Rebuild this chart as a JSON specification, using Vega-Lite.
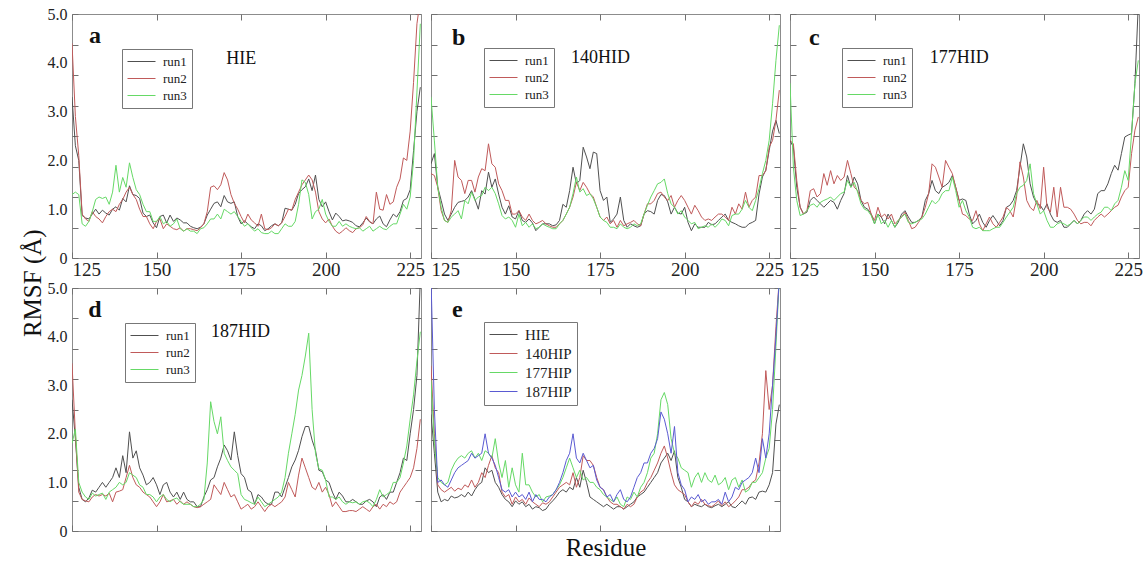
{
"$schema": "https://vega.github.io/schema/vega-lite/v6.json",
"background": "white",
"padding": {"left": 20, "top": 5, "right": 0, "bottom": 0},
"title": {"text": "RMSF (Å)", "orient": "left", "anchor": "middle", "fontSize": 25, "font": "Liberation Serif", "fontWeight": "normal", "color": "#111", "offset": 1},
"config": {
  "font": "Liberation Serif",
  "view": {"stroke": "#8c8c8c", "strokeWidth": 1},
  "axis": {"domain": false, "grid": false, "tickColor": "#707070", "tickSize": -6, "tickWidth": 1, "labelFont": "Liberation Serif", "labelColor": "#222", "titleFont": "Liberation Serif", "titleFontWeight": "normal", "titleColor": "#111"},
  "axisX": {"labelFontSize": 19, "labelPadding": 8},
  "axisY": {"labelFontSize": 16, "labelPadding": 5},
  "legend": {"strokeColor": "#777", "strokeWidth": 1, "padding": 5, "labelFont": "Liberation Serif", "labelFontSize": 13, "labelColor": "#222", "symbolType": "M-1,0H3", "symbolSize": 196, "symbolStrokeWidth": 1, "labelOffset": 21, "rowPadding": 2, "fillColor": "white"}
},
"resolve": {"scale": {"color": "independent"}, "legend": {"color": "independent"}},
"datasets": {
"a": [
{"r":125,"run1":3.3,"run2":4.4,"run3":1.3},
{"r":126,"run1":2.3,"run2":2.9,"run3":1.35},
{"r":127,"run1":2.0,"run2":2.1,"run3":1.3},
{"r":128,"run1":0.87,"run2":0.9,"run3":0.7},
{"r":129,"run1":0.82,"run2":0.8,"run3":0.65},
{"r":130,"run1":0.8,"run2":0.75,"run3":0.75},
{"r":131,"run1":0.9,"run2":0.95,"run3":0.95},
{"r":132,"run1":1.0,"run2":0.85,"run3":1.2},
{"r":133,"run1":0.9,"run2":0.8,"run3":1.25},
{"r":134,"run1":0.98,"run2":0.72,"run3":1.22},
{"r":135,"run1":0.92,"run2":0.85,"run3":1.25},
{"r":136,"run1":0.88,"run2":0.95,"run3":1.1},
{"r":137,"run1":1.0,"run2":1.0,"run3":1.35},
{"r":138,"run1":1.05,"run2":0.95,"run3":1.9},
{"r":139,"run1":0.98,"run2":1.1,"run3":1.35},
{"r":140,"run1":1.22,"run2":1.2,"run3":1.65},
{"r":141,"run1":1.15,"run2":1.35,"run3":1.45},
{"r":142,"run1":1.48,"run2":1.45,"run3":1.95},
{"r":143,"run1":1.3,"run2":1.3,"run3":1.65},
{"r":144,"run1":1.28,"run2":1.2,"run3":1.4},
{"r":145,"run1":1.22,"run2":1.0,"run3":1.3},
{"r":146,"run1":0.92,"run2":0.85,"run3":1.1},
{"r":147,"run1":0.85,"run2":0.85,"run3":0.95},
{"r":148,"run1":0.88,"run2":0.7,"run3":0.95},
{"r":149,"run1":0.72,"run2":0.6,"run3":0.75},
{"r":150,"run1":0.62,"run2":0.75,"run3":0.75},
{"r":151,"run1":0.85,"run2":0.8,"run3":0.85},
{"r":152,"run1":0.88,"run2":0.6,"run3":0.7},
{"r":153,"run1":0.72,"run2":0.7,"run3":0.75},
{"r":154,"run1":0.88,"run2":0.65,"run3":0.65},
{"r":155,"run1":0.75,"run2":0.6,"run3":0.7},
{"r":156,"run1":0.82,"run2":0.58,"run3":0.8},
{"r":157,"run1":0.78,"run2":0.62,"run3":0.6},
{"r":158,"run1":0.72,"run2":0.55,"run3":0.55},
{"r":159,"run1":0.72,"run2":0.6,"run3":0.6},
{"r":160,"run1":0.65,"run2":0.6,"run3":0.55},
{"r":161,"run1":0.62,"run2":0.58,"run3":0.55},
{"r":162,"run1":0.6,"run2":0.56,"run3":0.5},
{"r":163,"run1":0.63,"run2":0.62,"run3":0.6},
{"r":164,"run1":0.7,"run2":0.7,"run3":0.62},
{"r":165,"run1":0.88,"run2":0.95,"run3":0.7},
{"r":166,"run1":1.0,"run2":1.45,"run3":0.8},
{"r":167,"run1":1.12,"run2":1.48,"run3":0.8},
{"r":168,"run1":1.15,"run2":1.4,"run3":0.9},
{"r":169,"run1":1.05,"run2":1.5,"run3":0.8},
{"r":170,"run1":1.28,"run2":1.75,"run3":1.0},
{"r":171,"run1":1.15,"run2":1.6,"run3":0.95},
{"r":172,"run1":1.12,"run2":1.3,"run3":0.9},
{"r":173,"run1":1.15,"run2":1.12,"run3":0.95},
{"r":174,"run1":0.85,"run2":1.0,"run3":0.85},
{"r":175,"run1":0.7,"run2":0.85,"run3":0.75},
{"r":176,"run1":0.76,"run2":0.72,"run3":0.65},
{"r":177,"run1":0.7,"run2":0.9,"run3":0.7},
{"r":178,"run1":0.64,"run2":0.78,"run3":0.62},
{"r":179,"run1":0.6,"run2":0.72,"run3":0.55},
{"r":180,"run1":0.7,"run2":0.65,"run3":0.6},
{"r":181,"run1":0.66,"run2":0.9,"run3":0.52},
{"r":182,"run1":0.56,"run2":0.6,"run3":0.5},
{"r":183,"run1":0.6,"run2":0.58,"run3":0.5},
{"r":184,"run1":0.66,"run2":0.62,"run3":0.55},
{"r":185,"run1":0.7,"run2":0.7,"run3":0.5},
{"r":186,"run1":0.66,"run2":0.66,"run3":0.5},
{"r":187,"run1":0.72,"run2":0.72,"run3":0.6},
{"r":188,"run1":1.02,"run2":0.85,"run3":0.7},
{"r":189,"run1":1.0,"run2":1.0,"run3":0.65},
{"r":190,"run1":0.98,"run2":0.98,"run3":0.65},
{"r":191,"run1":1.1,"run2":1.2,"run3":0.75},
{"r":192,"run1":1.32,"run2":1.35,"run3":1.1},
{"r":193,"run1":1.4,"run2":1.5,"run3":1.6},
{"r":194,"run1":1.46,"run2":1.6,"run3":1.55},
{"r":195,"run1":1.62,"run2":1.7,"run3":1.3},
{"r":196,"run1":1.38,"run2":1.6,"run3":0.8},
{"r":197,"run1":1.7,"run2":1.35,"run3":0.95},
{"r":198,"run1":1.2,"run2":0.95,"run3":1.0},
{"r":199,"run1":1.05,"run2":0.8,"run3":1.2},
{"r":200,"run1":1.15,"run2":0.72,"run3":0.9},
{"r":201,"run1":0.95,"run2":0.8,"run3":0.75},
{"r":202,"run1":0.78,"run2":0.65,"run3":0.65},
{"r":203,"run1":0.92,"run2":0.55,"run3":0.65},
{"r":204,"run1":0.85,"run2":0.5,"run3":0.75},
{"r":205,"run1":0.76,"run2":0.55,"run3":0.65},
{"r":206,"run1":0.78,"run2":0.62,"run3":0.7},
{"r":207,"run1":0.76,"run2":0.56,"run3":0.65},
{"r":208,"run1":0.73,"run2":0.52,"run3":0.62},
{"r":209,"run1":0.66,"run2":0.6,"run3":0.6},
{"r":210,"run1":0.64,"run2":0.62,"run3":0.62},
{"r":211,"run1":0.72,"run2":0.68,"run3":0.55},
{"r":212,"run1":0.82,"run2":0.85,"run3":0.6},
{"r":213,"run1":0.74,"run2":0.75,"run3":0.65},
{"r":214,"run1":0.7,"run2":0.7,"run3":0.55},
{"r":215,"run1":0.8,"run2":1.35,"run3":0.6},
{"r":216,"run1":0.86,"run2":1.0,"run3":0.65},
{"r":217,"run1":0.7,"run2":0.98,"run3":0.6},
{"r":218,"run1":0.64,"run2":1.3,"run3":0.58},
{"r":219,"run1":0.78,"run2":1.1,"run3":0.65},
{"r":220,"run1":0.9,"run2":1.15,"run3":0.7},
{"r":221,"run1":0.84,"run2":1.45,"run3":0.7},
{"r":222,"run1":0.95,"run2":1.62,"run3":0.9},
{"r":223,"run1":1.18,"run2":2.05,"run3":1.1},
{"r":224,"run1":1.22,"run2":2.0,"run3":1.0},
{"r":225,"run1":1.4,"run2":2.6,"run3":1.25},
{"r":226,"run1":2.2,"run2":3.6,"run3":2.0},
{"r":227,"run1":3.0,"run2":4.8,"run3":3.4},
{"r":228,"run1":3.5,"run2":5.3,"run3":4.8}
],
"b": [
{"r":125,"run1":1.93,"run2":1.73,"run3":3.3},
{"r":126,"run1":2.14,"run2":1.69,"run3":2.4},
{"r":127,"run1":1.45,"run2":1.45,"run3":1.45},
{"r":128,"run1":1.18,"run2":0.97,"run3":1.04},
{"r":129,"run1":0.9,"run2":0.77,"run3":0.77},
{"r":130,"run1":0.77,"run2":0.73,"run3":0.73},
{"r":131,"run1":0.9,"run2":0.97,"run3":0.84},
{"r":132,"run1":1.04,"run2":2.0,"run3":0.9},
{"r":133,"run1":1.14,"run2":1.66,"run3":0.97},
{"r":134,"run1":1.16,"run2":1.59,"run3":0.8},
{"r":135,"run1":1.18,"run2":1.32,"run3":1.18},
{"r":136,"run1":1.25,"run2":1.59,"run3":1.11},
{"r":137,"run1":1.38,"run2":1.59,"run3":1.35},
{"r":138,"run1":1.2,"run2":1.35,"run3":1.18},
{"r":139,"run1":1.0,"run2":1.66,"run3":1.25},
{"r":140,"run1":1.38,"run2":1.83,"run3":1.28},
{"r":141,"run1":1.31,"run2":1.79,"run3":1.45},
{"r":142,"run1":1.76,"run2":2.34,"run3":1.38},
{"r":143,"run1":1.45,"run2":1.93,"run3":1.45},
{"r":144,"run1":1.62,"run2":1.86,"run3":1.32},
{"r":145,"run1":1.31,"run2":1.52,"run3":1.11},
{"r":146,"run1":1.04,"run2":1.38,"run3":0.87},
{"r":147,"run1":0.9,"run2":1.18,"run3":0.8},
{"r":148,"run1":1.07,"run2":1.18,"run3":0.84},
{"r":149,"run1":0.84,"run2":0.9,"run3":0.77},
{"r":150,"run1":0.8,"run2":0.9,"run3":0.63},
{"r":151,"run1":0.97,"run2":0.97,"run3":0.9},
{"r":152,"run1":0.77,"run2":0.84,"run3":0.66},
{"r":153,"run1":0.73,"run2":0.77,"run3":0.73},
{"r":154,"run1":0.8,"run2":0.9,"run3":0.63},
{"r":155,"run1":0.72,"run2":0.77,"run3":0.7},
{"r":156,"run1":0.56,"run2":0.7,"run3":0.6},
{"r":157,"run1":0.63,"run2":0.73,"run3":0.63},
{"r":158,"run1":0.7,"run2":0.77,"run3":0.7},
{"r":159,"run1":0.7,"run2":0.7,"run3":0.66},
{"r":160,"run1":0.7,"run2":0.66,"run3":0.63},
{"r":161,"run1":0.66,"run2":0.63,"run3":0.6},
{"r":162,"run1":0.68,"run2":0.63,"run3":0.6},
{"r":163,"run1":0.77,"run2":0.7,"run3":0.7},
{"r":164,"run1":1.1,"run2":0.77,"run3":0.77},
{"r":165,"run1":1.04,"run2":0.9,"run3":0.9},
{"r":166,"run1":1.38,"run2":1.04,"run3":1.04},
{"r":167,"run1":1.86,"run2":1.25,"run3":1.32},
{"r":168,"run1":1.52,"run2":1.55,"run3":1.66},
{"r":169,"run1":1.59,"run2":1.38,"run3":1.35},
{"r":170,"run1":2.27,"run2":1.55,"run3":1.42},
{"r":171,"run1":2.07,"run2":1.45,"run3":1.28},
{"r":172,"run1":1.83,"run2":1.32,"run3":1.32},
{"r":173,"run1":2.17,"run2":1.25,"run3":1.21},
{"r":174,"run1":2.14,"run2":1.04,"run3":1.04},
{"r":175,"run1":1.38,"run2":0.84,"run3":0.84},
{"r":176,"run1":1.18,"run2":0.77,"run3":0.77},
{"r":177,"run1":1.25,"run2":0.84,"run3":0.73},
{"r":178,"run1":0.73,"run2":0.7,"run3":0.63},
{"r":179,"run1":0.8,"run2":0.77,"run3":0.63},
{"r":180,"run1":0.9,"run2":0.63,"run3":0.6},
{"r":181,"run1":1.25,"run2":0.77,"run3":0.7},
{"r":182,"run1":0.77,"run2":0.66,"run3":0.63},
{"r":183,"run1":0.63,"run2":0.7,"run3":0.6},
{"r":184,"run1":0.7,"run2":0.73,"run3":0.63},
{"r":185,"run1":0.66,"run2":0.77,"run3":0.7},
{"r":186,"run1":0.63,"run2":0.7,"run3":0.66},
{"r":187,"run1":0.66,"run2":0.66,"run3":0.7},
{"r":188,"run1":0.9,"run2":0.9,"run3":0.9},
{"r":189,"run1":0.97,"run2":1.11,"run3":1.08},
{"r":190,"run1":0.95,"run2":1.11,"run3":1.25},
{"r":191,"run1":0.9,"run2":1.18,"run3":1.38},
{"r":192,"run1":1.18,"run2":1.32,"run3":1.52},
{"r":193,"run1":1.3,"run2":1.35,"run3":1.55},
{"r":194,"run1":1.28,"run2":1.25,"run3":1.62},
{"r":195,"run1":1.15,"run2":1.18,"run3":1.32},
{"r":196,"run1":0.9,"run2":1.28,"run3":1.11},
{"r":197,"run1":1.04,"run2":1.04,"run3":1.04},
{"r":198,"run1":0.92,"run2":1.18,"run3":0.9},
{"r":199,"run1":0.9,"run2":1.28,"run3":0.97},
{"r":200,"run1":1.04,"run2":1.18,"run3":0.84},
{"r":201,"run1":0.73,"run2":1.04,"run3":0.77},
{"r":202,"run1":0.56,"run2":0.9,"run3":0.7},
{"r":203,"run1":0.7,"run2":1.08,"run3":0.73},
{"r":204,"run1":0.63,"run2":0.97,"run3":0.6},
{"r":205,"run1":0.63,"run2":0.84,"run3":0.63},
{"r":206,"run1":0.63,"run2":0.77,"run3":0.66},
{"r":207,"run1":0.73,"run2":0.8,"run3":0.63},
{"r":208,"run1":0.68,"run2":0.77,"run3":0.7},
{"r":209,"run1":0.7,"run2":0.84,"run3":0.63},
{"r":210,"run1":0.77,"run2":0.9,"run3":0.7},
{"r":211,"run1":0.84,"run2":0.9,"run3":0.8},
{"r":212,"run1":0.9,"run2":0.84,"run3":0.77},
{"r":213,"run1":0.77,"run2":0.77,"run3":0.66},
{"r":214,"run1":0.73,"run2":1.04,"run3":0.87},
{"r":215,"run1":0.7,"run2":0.9,"run3":0.9},
{"r":216,"run1":0.66,"run2":1.11,"run3":0.9},
{"r":217,"run1":0.63,"run2":1.0,"run3":1.0},
{"r":218,"run1":0.63,"run2":1.35,"run3":1.18},
{"r":219,"run1":0.7,"run2":1.04,"run3":1.04},
{"r":220,"run1":0.73,"run2":1.18,"run3":0.97},
{"r":221,"run1":0.77,"run2":1.25,"run3":1.18},
{"r":222,"run1":1.31,"run2":1.69,"run3":1.42},
{"r":223,"run1":1.66,"run2":1.69,"run3":1.73},
{"r":224,"run1":1.8,"run2":1.79,"run3":2.0},
{"r":225,"run1":2.2,"run2":2.27,"run3":2.41},
{"r":226,"run1":2.6,"run2":2.41,"run3":3.16},
{"r":227,"run1":2.82,"run2":2.82,"run3":4.05},
{"r":228,"run1":2.55,"run2":3.44,"run3":4.77}
],
"c": [
{"r":125,"run1":2.41,"run2":2.41,"run3":3.58},
{"r":126,"run1":2.27,"run2":2.34,"run3":1.86},
{"r":127,"run1":1.45,"run2":1.59,"run3":1.18},
{"r":128,"run1":1.04,"run2":1.04,"run3":0.87},
{"r":129,"run1":0.9,"run2":0.9,"run3":0.9},
{"r":130,"run1":0.94,"run2":0.97,"run3":0.97},
{"r":131,"run1":1.18,"run2":1.38,"run3":1.08},
{"r":132,"run1":1.25,"run2":1.42,"run3":1.11},
{"r":133,"run1":1.18,"run2":1.25,"run3":1.04},
{"r":134,"run1":1.11,"run2":1.32,"run3":1.14},
{"r":135,"run1":1.04,"run2":1.73,"run3":1.18},
{"r":136,"run1":1.11,"run2":1.49,"run3":1.21},
{"r":137,"run1":1.18,"run2":1.79,"run3":1.25},
{"r":138,"run1":1.14,"run2":1.52,"run3":1.18},
{"r":139,"run1":1.0,"run2":1.69,"run3":1.25},
{"r":140,"run1":1.18,"run2":1.59,"run3":1.32},
{"r":141,"run1":1.32,"run2":1.66,"run3":1.35},
{"r":142,"run1":1.69,"run2":2.0,"run3":1.59},
{"r":143,"run1":1.45,"run2":1.73,"run3":1.45},
{"r":144,"run1":1.66,"run2":1.45,"run3":1.55},
{"r":145,"run1":1.52,"run2":1.38,"run3":1.35},
{"r":146,"run1":1.18,"run2":1.18,"run3":1.11},
{"r":147,"run1":1.04,"run2":1.11,"run3":1.0},
{"r":148,"run1":1.0,"run2":1.14,"run3":0.97},
{"r":149,"run1":0.9,"run2":0.9,"run3":0.87},
{"r":150,"run1":0.7,"run2":0.77,"run3":0.7},
{"r":151,"run1":0.9,"run2":1.04,"run3":0.9},
{"r":152,"run1":0.84,"run2":0.84,"run3":0.7},
{"r":153,"run1":0.7,"run2":0.9,"run3":0.77},
{"r":154,"run1":0.9,"run2":0.8,"run3":0.63},
{"r":155,"run1":0.77,"run2":0.9,"run3":0.77},
{"r":156,"run1":0.63,"run2":0.7,"run3":0.63},
{"r":157,"run1":0.73,"run2":0.77,"run3":0.77},
{"r":158,"run1":0.9,"run2":0.84,"run3":0.84},
{"r":159,"run1":0.97,"run2":0.94,"run3":0.9},
{"r":160,"run1":0.84,"run2":0.77,"run3":0.73},
{"r":161,"run1":0.73,"run2":0.6,"run3":0.7},
{"r":162,"run1":0.73,"run2":0.63,"run3":0.73},
{"r":163,"run1":0.77,"run2":0.73,"run3":0.77},
{"r":164,"run1":0.84,"run2":0.84,"run3":0.8},
{"r":165,"run1":1.18,"run2":1.04,"run3":0.9},
{"r":166,"run1":1.32,"run2":1.32,"run3":1.04},
{"r":167,"run1":1.59,"run2":1.93,"run3":1.18},
{"r":168,"run1":1.38,"run2":1.86,"run3":1.11},
{"r":169,"run1":1.32,"run2":1.66,"run3":1.18},
{"r":170,"run1":1.45,"run2":1.45,"run3":1.32},
{"r":171,"run1":1.49,"run2":2.0,"run3":1.38},
{"r":172,"run1":1.55,"run2":1.86,"run3":1.38},
{"r":173,"run1":1.69,"run2":1.73,"run3":1.66},
{"r":174,"run1":1.45,"run2":1.45,"run3":1.38},
{"r":175,"run1":1.18,"run2":1.18,"run3":1.04},
{"r":176,"run1":1.21,"run2":0.9,"run3":1.18},
{"r":177,"run1":1.18,"run2":0.87,"run3":0.97},
{"r":178,"run1":0.9,"run2":0.8,"run3":0.84},
{"r":179,"run1":0.7,"run2":0.77,"run3":0.63},
{"r":180,"run1":0.77,"run2":0.97,"run3":0.6},
{"r":181,"run1":0.9,"run2":0.7,"run3":0.63},
{"r":182,"run1":0.73,"run2":0.56,"run3":0.56},
{"r":183,"run1":0.63,"run2":0.7,"run3":0.56},
{"r":184,"run1":0.77,"run2":0.84,"run3":0.56},
{"r":185,"run1":0.87,"run2":0.7,"run3":0.6},
{"r":186,"run1":0.77,"run2":0.63,"run3":0.63},
{"r":187,"run1":0.66,"run2":0.73,"run3":0.63},
{"r":188,"run1":0.77,"run2":0.84,"run3":0.73},
{"r":189,"run1":1.04,"run2":1.04,"run3":0.84},
{"r":190,"run1":1.08,"run2":0.97,"run3":0.94},
{"r":191,"run1":1.18,"run2":0.84,"run3":1.04},
{"r":192,"run1":1.38,"run2":1.25,"run3":1.32},
{"r":193,"run1":1.86,"run2":1.97,"run3":1.45},
{"r":194,"run1":2.34,"run2":1.66,"run3":1.49},
{"r":195,"run1":2.07,"run2":1.18,"run3":1.59},
{"r":196,"run1":1.52,"run2":1.04,"run3":1.93},
{"r":197,"run1":1.25,"run2":0.97,"run3":1.32},
{"r":198,"run1":1.11,"run2":1.18,"run3":1.11},
{"r":199,"run1":1.08,"run2":1.01,"run3":0.9},
{"r":200,"run1":0.97,"run2":1.86,"run3":0.97},
{"r":201,"run1":1.11,"run2":1.04,"run3":0.77},
{"r":202,"run1":0.9,"run2":0.94,"run3":0.63},
{"r":203,"run1":0.77,"run2":1.45,"run3":0.63},
{"r":204,"run1":0.73,"run2":0.84,"run3":0.7},
{"r":205,"run1":0.77,"run2":1.45,"run3":0.73},
{"r":206,"run1":0.63,"run2":1.04,"run3":0.7},
{"r":207,"run1":0.63,"run2":1.04,"run3":0.66},
{"r":208,"run1":0.7,"run2":1.0,"run3":0.7},
{"r":209,"run1":0.77,"run2":0.9,"run3":0.77},
{"r":210,"run1":0.7,"run2":0.77,"run3":0.7},
{"r":211,"run1":0.77,"run2":0.7,"run3":0.77},
{"r":212,"run1":0.9,"run2":0.73,"run3":0.84},
{"r":213,"run1":0.97,"run2":0.73,"run3":0.84},
{"r":214,"run1":0.9,"run2":0.66,"run3":0.77},
{"r":215,"run1":1.0,"run2":0.77,"run3":0.84},
{"r":216,"run1":1.32,"run2":0.84,"run3":0.9},
{"r":217,"run1":1.38,"run2":0.9,"run3":0.94},
{"r":218,"run1":1.38,"run2":0.84,"run3":1.04},
{"r":219,"run1":1.52,"run2":0.9,"run3":1.04},
{"r":220,"run1":1.73,"run2":0.97,"run3":0.97},
{"r":221,"run1":1.9,"run2":1.04,"run3":1.11},
{"r":222,"run1":1.8,"run2":1.08,"run3":1.18},
{"r":223,"run1":2.14,"run2":1.25,"run3":1.45},
{"r":224,"run1":2.48,"run2":1.38,"run3":1.79},
{"r":225,"run1":2.52,"run2":1.45,"run3":1.59},
{"r":226,"run1":2.55,"run2":2.14,"run3":2.55},
{"r":227,"run1":3.58,"run2":2.62,"run3":3.58},
{"r":228,"run1":5.2,"run2":2.89,"run3":4.05}
],
"d": [
{"r":125,"run1":2.7,"run2":3.45,"run3":1.8},
{"r":126,"run1":1.9,"run2":2.0,"run3":2.1},
{"r":127,"run1":0.9,"run2":0.8,"run3":1.0},
{"r":128,"run1":0.65,"run2":0.65,"run3":0.8},
{"r":129,"run1":0.6,"run2":0.62,"run3":0.7},
{"r":130,"run1":0.68,"run2":0.6,"run3":0.65},
{"r":131,"run1":0.84,"run2":0.7,"run3":0.78},
{"r":132,"run1":0.8,"run2":0.75,"run3":0.72},
{"r":133,"run1":0.9,"run2":0.72,"run3":0.75},
{"r":134,"run1":1.0,"run2":0.75,"run3":0.78},
{"r":135,"run1":0.9,"run2":0.72,"run3":0.65},
{"r":136,"run1":1.0,"run2":0.78,"run3":0.8},
{"r":137,"run1":1.1,"run2":0.6,"run3":0.85},
{"r":138,"run1":1.3,"run2":0.8,"run3":0.9},
{"r":139,"run1":1.1,"run2":0.82,"run3":1.0},
{"r":140,"run1":1.55,"run2":0.85,"run3":0.95},
{"r":141,"run1":1.2,"run2":1.1,"run3":1.0},
{"r":142,"run1":2.04,"run2":1.35,"run3":1.2},
{"r":143,"run1":1.5,"run2":1.1,"run3":1.15},
{"r":144,"run1":1.65,"run2":0.95,"run3":1.1},
{"r":145,"run1":1.3,"run2":0.9,"run3":0.95},
{"r":146,"run1":1.15,"run2":0.8,"run3":0.9},
{"r":147,"run1":0.95,"run2":0.75,"run3":0.75},
{"r":148,"run1":1.0,"run2":0.7,"run3":0.75},
{"r":149,"run1":1.1,"run2":0.6,"run3":0.7},
{"r":150,"run1":0.95,"run2":0.5,"run3":0.6},
{"r":151,"run1":0.75,"run2":0.6,"run3":0.7},
{"r":152,"run1":0.95,"run2":0.75,"run3":0.75},
{"r":153,"run1":1.0,"run2":0.6,"run3":0.65},
{"r":154,"run1":0.8,"run2":0.62,"run3":0.6},
{"r":155,"run1":0.7,"run2":0.65,"run3":0.65},
{"r":156,"run1":0.8,"run2":0.55,"run3":0.68},
{"r":157,"run1":0.65,"run2":0.62,"run3":0.6},
{"r":158,"run1":0.8,"run2":0.55,"run3":0.55},
{"r":159,"run1":0.65,"run2":0.6,"run3":0.55},
{"r":160,"run1":0.6,"run2":0.55,"run3":0.55},
{"r":161,"run1":0.6,"run2":0.5,"run3":0.5},
{"r":162,"run1":0.5,"run2":0.48,"run3":0.5},
{"r":163,"run1":0.5,"run2":0.5,"run3":0.55},
{"r":164,"run1":0.7,"run2":0.55,"run3":0.65},
{"r":165,"run1":0.85,"run2":0.6,"run3":1.4},
{"r":166,"run1":1.05,"run2":0.65,"run3":2.66},
{"r":167,"run1":1.1,"run2":0.95,"run3":2.25},
{"r":168,"run1":1.32,"run2":0.85,"run3":2.0},
{"r":169,"run1":1.5,"run2":0.75,"run3":2.35},
{"r":170,"run1":1.77,"run2":1.0,"run3":1.6},
{"r":171,"run1":1.65,"run2":0.85,"run3":1.45},
{"r":172,"run1":1.46,"run2":0.7,"run3":1.32},
{"r":173,"run1":2.04,"run2":0.75,"run3":1.25},
{"r":174,"run1":1.55,"run2":0.6,"run3":1.18},
{"r":175,"run1":1.18,"run2":0.45,"run3":0.75},
{"r":176,"run1":1.1,"run2":0.5,"run3":0.65},
{"r":177,"run1":0.85,"run2":0.55,"run3":0.62},
{"r":178,"run1":0.8,"run2":0.45,"run3":0.58},
{"r":179,"run1":0.55,"run2":0.5,"run3":0.55},
{"r":180,"run1":0.75,"run2":0.6,"run3":0.7},
{"r":181,"run1":0.7,"run2":0.5,"run3":0.6},
{"r":182,"run1":0.6,"run2":0.4,"run3":0.5},
{"r":183,"run1":0.55,"run2":0.5,"run3":0.55},
{"r":184,"run1":0.55,"run2":0.55,"run3":0.6},
{"r":185,"run1":0.8,"run2":0.5,"run3":0.65},
{"r":186,"run1":0.8,"run2":0.55,"run3":0.7},
{"r":187,"run1":0.7,"run2":0.6,"run3":0.8},
{"r":188,"run1":0.9,"run2":0.7,"run3":1.1},
{"r":189,"run1":1.1,"run2":1.0,"run3":1.6},
{"r":190,"run1":1.32,"run2":0.85,"run3":2.0},
{"r":191,"run1":1.46,"run2":0.7,"run3":2.4},
{"r":192,"run1":1.66,"run2":1.15,"run3":2.9},
{"r":193,"run1":1.94,"run2":1.5,"run3":3.2},
{"r":194,"run1":2.15,"run2":1.3,"run3":3.6},
{"r":195,"run1":2.15,"run2":1.1,"run3":4.07},
{"r":196,"run1":1.87,"run2":0.9,"run3":2.5},
{"r":197,"run1":1.66,"run2":0.85,"run3":1.6},
{"r":198,"run1":1.25,"run2":1.0,"run3":1.28},
{"r":199,"run1":1.22,"run2":0.8,"run3":1.25},
{"r":200,"run1":1.05,"run2":0.9,"run3":1.05},
{"r":201,"run1":1.0,"run2":0.75,"run3":0.7},
{"r":202,"run1":0.8,"run2":0.5,"run3":0.7},
{"r":203,"run1":0.65,"run2":0.6,"run3":0.65},
{"r":204,"run1":0.8,"run2":0.5,"run3":0.7},
{"r":205,"run1":0.72,"run2":0.4,"run3":0.6},
{"r":206,"run1":0.6,"run2":0.4,"run3":0.55},
{"r":207,"run1":0.6,"run2":0.42,"run3":0.6},
{"r":208,"run1":0.65,"run2":0.42,"run3":0.58},
{"r":209,"run1":0.6,"run2":0.4,"run3":0.6},
{"r":210,"run1":0.55,"run2":0.45,"run3":0.55},
{"r":211,"run1":0.55,"run2":0.5,"run3":0.6},
{"r":212,"run1":0.62,"run2":0.45,"run3":0.62},
{"r":213,"run1":0.65,"run2":0.4,"run3":0.58},
{"r":214,"run1":0.6,"run2":0.5,"run3":0.5},
{"r":215,"run1":0.5,"run2":0.55,"run3":0.65},
{"r":216,"run1":0.7,"run2":0.45,"run3":0.85},
{"r":217,"run1":0.75,"run2":0.55,"run3":0.7},
{"r":218,"run1":0.65,"run2":0.5,"run3":0.75},
{"r":219,"run1":0.8,"run2":0.6,"run3":0.8},
{"r":220,"run1":0.8,"run2":0.55,"run3":1.0},
{"r":221,"run1":1.0,"run2":0.6,"run3":1.0},
{"r":222,"run1":1.2,"run2":0.8,"run3":1.1},
{"r":223,"run1":1.5,"run2":0.9,"run3":1.4},
{"r":224,"run1":1.45,"run2":1.0,"run3":1.75},
{"r":225,"run1":2.0,"run2":1.1,"run3":2.3},
{"r":226,"run1":2.5,"run2":1.3,"run3":2.8},
{"r":227,"run1":3.2,"run2":1.7,"run3":3.5},
{"r":228,"run1":5.2,"run2":2.3,"run3":4.1}
],
"e": [
{"r":125,"HIE":2.4,"140HIP":3.4,"177HIP":3.1,"187HIP":5.2},
{"r":126,"HIE":1.6,"140HIP":2.0,"177HIP":1.8,"187HIP":2.5},
{"r":127,"HIE":0.8,"140HIP":0.95,"177HIP":1.1,"187HIP":1.0},
{"r":128,"HIE":0.6,"140HIP":0.85,"177HIP":1.0,"187HIP":1.05},
{"r":129,"HIE":0.65,"140HIP":0.8,"177HIP":0.95,"187HIP":0.95},
{"r":130,"HIE":0.62,"140HIP":0.85,"177HIP":1.0,"187HIP":0.9},
{"r":131,"HIE":0.72,"140HIP":0.9,"177HIP":1.25,"187HIP":1.05},
{"r":132,"HIE":0.68,"140HIP":0.82,"177HIP":1.4,"187HIP":1.2},
{"r":133,"HIE":0.7,"140HIP":0.88,"177HIP":1.5,"187HIP":1.3},
{"r":134,"HIE":0.75,"140HIP":0.85,"177HIP":1.55,"187HIP":1.35},
{"r":135,"HIE":0.7,"140HIP":0.95,"177HIP":1.5,"187HIP":1.4},
{"r":136,"HIE":0.8,"140HIP":0.9,"177HIP":1.6,"187HIP":1.45},
{"r":137,"HIE":0.72,"140HIP":1.05,"177HIP":1.65,"187HIP":1.6},
{"r":138,"HIE":0.85,"140HIP":0.9,"177HIP":1.5,"187HIP":1.5},
{"r":139,"HIE":0.95,"140HIP":1.0,"177HIP":1.6,"187HIP":1.55},
{"r":140,"HIE":1.0,"140HIP":1.2,"177HIP":1.45,"187HIP":1.6},
{"r":141,"HIE":1.3,"140HIP":1.1,"177HIP":1.65,"187HIP":2.0},
{"r":142,"HIE":1.2,"140HIP":1.35,"177HIP":1.6,"187HIP":1.6},
{"r":143,"HIE":1.25,"140HIP":1.55,"177HIP":1.5,"187HIP":1.5},
{"r":144,"HIE":1.0,"140HIP":1.3,"177HIP":1.9,"187HIP":1.35},
{"r":145,"HIE":0.9,"140HIP":1.2,"177HIP":1.4,"187HIP":1.1},
{"r":146,"HIE":0.75,"140HIP":0.8,"177HIP":1.1,"187HIP":0.85},
{"r":147,"HIE":0.65,"140HIP":0.7,"177HIP":1.45,"187HIP":0.8},
{"r":148,"HIE":0.6,"140HIP":0.75,"177HIP":0.9,"187HIP":0.85},
{"r":149,"HIE":0.5,"140HIP":0.55,"177HIP":1.3,"187HIP":0.7},
{"r":150,"HIE":0.62,"140HIP":0.7,"177HIP":0.95,"187HIP":0.8},
{"r":151,"HIE":0.55,"140HIP":0.6,"177HIP":0.8,"187HIP":0.7},
{"r":152,"HIE":0.6,"140HIP":0.65,"177HIP":1.6,"187HIP":0.75},
{"r":153,"HIE":0.5,"140HIP":0.55,"177HIP":0.95,"187HIP":0.65},
{"r":154,"HIE":0.55,"140HIP":0.68,"177HIP":0.95,"187HIP":0.8},
{"r":155,"HIE":0.45,"140HIP":0.6,"177HIP":0.8,"187HIP":0.6},
{"r":156,"HIE":0.5,"140HIP":0.55,"177HIP":0.7,"187HIP":0.75},
{"r":157,"HIE":0.48,"140HIP":0.5,"177HIP":0.75,"187HIP":0.65},
{"r":158,"HIE":0.42,"140HIP":0.58,"177HIP":0.6,"187HIP":0.65},
{"r":159,"HIE":0.45,"140HIP":0.55,"177HIP":0.7,"187HIP":0.6},
{"r":160,"HIE":0.55,"140HIP":0.6,"177HIP":0.72,"187HIP":0.7},
{"r":161,"HIE":0.62,"140HIP":0.7,"177HIP":0.75,"187HIP":0.75},
{"r":162,"HIE":0.7,"140HIP":0.8,"177HIP":0.85,"187HIP":0.85},
{"r":163,"HIE":0.8,"140HIP":0.9,"177HIP":0.95,"187HIP":1.0},
{"r":164,"HIE":0.85,"140HIP":0.95,"177HIP":1.1,"187HIP":1.2},
{"r":165,"HIE":0.8,"140HIP":1.0,"177HIP":1.3,"187HIP":1.45},
{"r":166,"HIE":0.9,"140HIP":0.95,"177HIP":1.5,"187HIP":1.6},
{"r":167,"HIE":0.85,"140HIP":1.2,"177HIP":1.3,"187HIP":2.0},
{"r":168,"HIE":1.1,"140HIP":0.9,"177HIP":1.1,"187HIP":1.5},
{"r":169,"HIE":0.9,"140HIP":1.1,"177HIP":1.25,"187HIP":1.4},
{"r":170,"HIE":1.25,"140HIP":1.55,"177HIP":1.05,"187HIP":1.6},
{"r":171,"HIE":1.0,"140HIP":1.45,"177HIP":1.1,"187HIP":1.45},
{"r":172,"HIE":0.7,"140HIP":1.45,"177HIP":1.0,"187HIP":1.3},
{"r":173,"HIE":0.65,"140HIP":1.35,"177HIP":1.0,"187HIP":1.35},
{"r":174,"HIE":0.6,"140HIP":1.1,"177HIP":0.9,"187HIP":1.05},
{"r":175,"HIE":0.55,"140HIP":0.9,"177HIP":0.85,"187HIP":0.9},
{"r":176,"HIE":0.5,"140HIP":0.85,"177HIP":0.75,"187HIP":0.85},
{"r":177,"HIE":0.55,"140HIP":0.7,"177HIP":0.7,"187HIP":0.7},
{"r":178,"HIE":0.5,"140HIP":0.6,"177HIP":0.65,"187HIP":0.75},
{"r":179,"HIE":0.45,"140HIP":0.55,"177HIP":0.6,"187HIP":0.6},
{"r":180,"HIE":0.5,"140HIP":0.55,"177HIP":0.7,"187HIP":0.75},
{"r":181,"HIE":0.5,"140HIP":0.5,"177HIP":0.55,"187HIP":0.85},
{"r":182,"HIE":0.45,"140HIP":0.45,"177HIP":0.5,"187HIP":0.65},
{"r":183,"HIE":0.5,"140HIP":0.55,"177HIP":0.7,"187HIP":0.6},
{"r":184,"HIE":0.55,"140HIP":0.5,"177HIP":0.65,"187HIP":0.7},
{"r":185,"HIE":0.6,"140HIP":0.55,"177HIP":0.8,"187HIP":0.9},
{"r":186,"HIE":0.7,"140HIP":0.7,"177HIP":0.7,"187HIP":1.1},
{"r":187,"HIE":0.75,"140HIP":0.8,"177HIP":0.9,"187HIP":1.2},
{"r":188,"HIE":0.8,"140HIP":0.85,"177HIP":1.0,"187HIP":1.4},
{"r":189,"HIE":0.9,"140HIP":1.0,"177HIP":1.2,"187HIP":1.4},
{"r":190,"HIE":1.0,"140HIP":1.1,"177HIP":1.5,"187HIP":1.6},
{"r":191,"HIE":1.1,"140HIP":1.25,"177HIP":1.6,"187HIP":1.7},
{"r":192,"HIE":1.2,"140HIP":1.4,"177HIP":2.0,"187HIP":1.9},
{"r":193,"HIE":1.4,"140HIP":1.6,"177HIP":2.7,"187HIP":2.45},
{"r":194,"HIE":1.5,"140HIP":1.75,"177HIP":2.85,"187HIP":2.3},
{"r":195,"HIE":1.6,"140HIP":1.5,"177HIP":2.6,"187HIP":2.0},
{"r":196,"HIE":1.45,"140HIP":1.2,"177HIP":1.9,"187HIP":1.6},
{"r":197,"HIE":1.65,"140HIP":0.95,"177HIP":1.6,"187HIP":2.15},
{"r":198,"HIE":1.1,"140HIP":0.85,"177HIP":1.5,"187HIP":1.2},
{"r":199,"HIE":0.9,"140HIP":0.8,"177HIP":1.3,"187HIP":0.95},
{"r":200,"HIE":0.65,"140HIP":0.75,"177HIP":1.25,"187HIP":0.85},
{"r":201,"HIE":0.6,"140HIP":0.6,"177HIP":1.2,"187HIP":0.6},
{"r":202,"HIE":0.5,"140HIP":0.5,"177HIP":0.9,"187HIP":0.7},
{"r":203,"HIE":0.55,"140HIP":0.6,"177HIP":1.1,"187HIP":0.65},
{"r":204,"HIE":0.52,"140HIP":0.55,"177HIP":1.2,"187HIP":0.75},
{"r":205,"HIE":0.5,"140HIP":0.65,"177HIP":1.0,"187HIP":0.6},
{"r":206,"HIE":0.55,"140HIP":0.55,"177HIP":1.2,"187HIP":0.65},
{"r":207,"HIE":0.5,"140HIP":0.52,"177HIP":1.05,"187HIP":0.55},
{"r":208,"HIE":0.48,"140HIP":0.5,"177HIP":1.0,"187HIP":0.6},
{"r":209,"HIE":0.52,"140HIP":0.55,"177HIP":1.15,"187HIP":0.6},
{"r":210,"HIE":0.55,"140HIP":0.62,"177HIP":0.95,"187HIP":0.65},
{"r":211,"HIE":0.5,"140HIP":0.52,"177HIP":1.0,"187HIP":0.55},
{"r":212,"HIE":0.55,"140HIP":0.6,"177HIP":1.1,"187HIP":0.8},
{"r":213,"HIE":0.6,"140HIP":0.5,"177HIP":0.85,"187HIP":0.6},
{"r":214,"HIE":0.5,"140HIP":0.55,"177HIP":1.05,"187HIP":0.7},
{"r":215,"HIE":0.48,"140HIP":0.62,"177HIP":1.1,"187HIP":0.9},
{"r":216,"HIE":0.55,"140HIP":0.7,"177HIP":0.9,"187HIP":0.85},
{"r":217,"HIE":0.62,"140HIP":0.85,"177HIP":1.05,"187HIP":1.0},
{"r":218,"HIE":0.55,"140HIP":0.85,"177HIP":0.8,"187HIP":1.05},
{"r":219,"HIE":0.68,"140HIP":0.9,"177HIP":0.85,"187HIP":1.1},
{"r":220,"HIE":0.7,"140HIP":1.0,"177HIP":1.0,"187HIP":1.2},
{"r":221,"HIE":0.65,"140HIP":1.05,"177HIP":1.0,"187HIP":1.5},
{"r":222,"HIE":0.8,"140HIP":1.4,"177HIP":1.1,"187HIP":1.2},
{"r":223,"HIE":0.82,"140HIP":2.0,"177HIP":1.2,"187HIP":1.9},
{"r":224,"HIE":0.8,"140HIP":3.3,"177HIP":1.5,"187HIP":1.5},
{"r":225,"HIE":0.95,"140HIP":2.5,"177HIP":1.7,"187HIP":2.0},
{"r":226,"HIE":1.2,"140HIP":3.0,"177HIP":2.5,"187HIP":3.0},
{"r":227,"HIE":2.2,"140HIP":4.2,"177HIP":3.8,"187HIP":4.0},
{"r":228,"HIE":2.6,"140HIP":5.2,"177HIP":5.2,"187HIP":5.2}
]
},
"spacing": -1,
"vconcat": [
{"hconcat": [
 {"width": 349, "height": 244,
  "layer": [
   {"data": {"name": "a"}, "transform": [{"fold": ["run1","run2","run3"], "as": ["series","v"]}],
    "mark": {"type": "line", "strokeWidth": 1, "clip": true},
    "encoding": {
     "x": {"field": "r", "type": "quantitative", "scale": {"domain": [125, 228.2], "nice": false, "zero": false}, "axis": {"orient": "bottom", "values": [125,150,175,200,225], "title": null}},
     "y": {"field": "v", "type": "quantitative", "scale": {"domain": [0, 5], "nice": false}, "axis": {"orient": "left", "values": [0,0.625,1.25,1.875,2.5,3.125,3.75,4.375,5], "labels": false, "title": null}},
     "color": {"field": "series", "type": "nominal", "scale": {"domain": ["run1","run2","run3"], "range": ["#505050","#c05a5a","#66d966"]}, "legend": {"orient": "none", "legendX": 50, "legendY": 35, "title": null}}
    }},
   {"data": {"values": [{}]},
    "mark": {"type": "text", "text": "a", "fontSize": 24, "fontWeight": "bold", "align": "left", "baseline": "alphabetic", "color": "#111"},
    "encoding": {
     "x": {"datum": 130, "type": "quantitative", "axis": {"orient": "top", "values": [125,150,175,200,225], "labels": false, "title": null}},
     "y": {"datum": 4.41, "type": "quantitative", "axis": {"orient": "right", "values": [0,0.625,1.25,1.875,2.5,3.125,3.75,4.375,5], "labels": false, "title": null}}
    }},
   {"data": {"values": [{}]},
    "mark": {"type": "text", "text": "HIE", "fontSize": 18, "align": "left", "baseline": "alphabetic", "color": "#111"},
    "encoding": {
     "x": {"datum": 170.6, "type": "quantitative", "axis": null},
     "y": {"datum": 3.97, "type": "quantitative", "axis": {"orient": "left", "values": [0,1,2,3,4,5], "ticks": false, "title": null, "labelExpr": "datum.value == 0 ? '0' : format(datum.value, '.1f')"}}
    }}
  ],
  "resolve": {"axis": {"x": "independent", "y": "independent"}}
 },
 {"width": 349, "height": 244,
  "layer": [
   {"data": {"name": "b"}, "transform": [{"fold": ["run1","run2","run3"], "as": ["series","v"]}],
    "mark": {"type": "line", "strokeWidth": 1, "clip": true},
    "encoding": {
     "x": {"field": "r", "type": "quantitative", "scale": {"domain": [125, 228.2], "nice": false, "zero": false}, "axis": {"orient": "bottom", "values": [125,150,175,200,225], "title": null}},
     "y": {"field": "v", "type": "quantitative", "scale": {"domain": [0, 5], "nice": false}, "axis": {"orient": "left", "values": [0,0.625,1.25,1.875,2.5,3.125,3.75,4.375,5], "labels": false, "title": null}},
     "color": {"field": "series", "type": "nominal", "scale": {"domain": ["run1","run2","run3"], "range": ["#505050","#c05a5a","#66d966"]}, "legend": {"orient": "none", "legendX": 53, "legendY": 34, "title": null}}
    }},
   {"data": {"values": [{}]},
    "mark": {"type": "text", "text": "b", "fontSize": 24, "fontWeight": "bold", "align": "left", "baseline": "alphabetic", "color": "#111"},
    "encoding": {
     "x": {"datum": 131.2, "type": "quantitative", "axis": {"orient": "top", "values": [125,150,175,200,225], "labels": false, "title": null}},
     "y": {"datum": 4.36, "type": "quantitative", "axis": {"orient": "right", "values": [0,0.625,1.25,1.875,2.5,3.125,3.75,4.375,5], "labels": false, "title": null}}
    }},
   {"data": {"values": [{}]},
    "mark": {"type": "text", "text": "140HID", "fontSize": 18, "align": "left", "baseline": "alphabetic", "color": "#111"},
    "encoding": {
     "x": {"datum": 166.4, "type": "quantitative", "axis": null},
     "y": {"datum": 3.99, "type": "quantitative", "axis": null}
    }}
  ],
  "resolve": {"axis": {"x": "independent", "y": "independent"}}
 },
 {"width": 349, "height": 244,
  "layer": [
   {"data": {"name": "c"}, "transform": [{"fold": ["run1","run2","run3"], "as": ["series","v"]}],
    "mark": {"type": "line", "strokeWidth": 1, "clip": true},
    "encoding": {
     "x": {"field": "r", "type": "quantitative", "scale": {"domain": [125, 228.2], "nice": false, "zero": false}, "axis": {"orient": "bottom", "values": [125,150,175,200,225], "title": null}},
     "y": {"field": "v", "type": "quantitative", "scale": {"domain": [0, 5], "nice": false}, "axis": {"orient": "left", "values": [0,0.625,1.25,1.875,2.5,3.125,3.75,4.375,5], "labels": false, "title": null}},
     "color": {"field": "series", "type": "nominal", "scale": {"domain": ["run1","run2","run3"], "range": ["#505050","#c05a5a","#66d966"]}, "legend": {"orient": "none", "legendX": 52, "legendY": 34, "title": null}}
    }},
   {"data": {"values": [{}]},
    "mark": {"type": "text", "text": "c", "fontSize": 24, "fontWeight": "bold", "align": "left", "baseline": "alphabetic", "color": "#111"},
    "encoding": {
     "x": {"datum": 130.6, "type": "quantitative", "axis": {"orient": "top", "values": [125,150,175,200,225], "labels": false, "title": null}},
     "y": {"datum": 4.36, "type": "quantitative", "axis": {"orient": "right", "values": [0,0.625,1.25,1.875,2.5,3.125,3.75,4.375,5], "labels": false, "title": null}}
    }},
   {"data": {"values": [{}]},
    "mark": {"type": "text", "text": "177HID", "fontSize": 18, "align": "left", "baseline": "alphabetic", "color": "#111"},
    "encoding": {
     "x": {"datum": 166.3, "type": "quantitative", "axis": null},
     "y": {"datum": 3.99, "type": "quantitative", "axis": null}
    }}
  ],
  "resolve": {"axis": {"x": "independent", "y": "independent"}}
 }
], "spacing": 10, "bounds": "flush", "resolve": {"scale": {"color": "independent"}, "legend": {"color": "independent"}}},
{"hconcat": [
 {"width": 349, "height": 243,
  "layer": [
   {"data": {"name": "d"}, "transform": [{"fold": ["run1","run2","run3"], "as": ["series","v"]}],
    "mark": {"type": "line", "strokeWidth": 1, "clip": true},
    "encoding": {
     "x": {"field": "r", "type": "quantitative", "scale": {"domain": [125, 228.2], "nice": false, "zero": false}, "axis": {"orient": "bottom", "values": [125,150,175,200,225], "labels": false, "title": null}},
     "y": {"field": "v", "type": "quantitative", "scale": {"domain": [0, 5], "nice": false}, "axis": {"orient": "left", "values": [0,0.625,1.25,1.875,2.5,3.125,3.75,4.375,5], "labels": false, "title": null}},
     "color": {"field": "series", "type": "nominal", "scale": {"domain": ["run1","run2","run3"], "range": ["#505050","#c05a5a","#66d966"]}, "legend": {"orient": "none", "legendX": 53, "legendY": 35, "title": null}}
    }},
   {"data": {"values": [{}]},
    "mark": {"type": "text", "text": "d", "fontSize": 24, "fontWeight": "bold", "align": "left", "baseline": "alphabetic", "color": "#111"},
    "encoding": {
     "x": {"datum": 129.8, "type": "quantitative", "axis": {"orient": "top", "values": [125,150,175,200,225], "labels": false, "title": null}},
     "y": {"datum": 4.41, "type": "quantitative", "axis": {"orient": "right", "values": [0,0.625,1.25,1.875,2.5,3.125,3.75,4.375,5], "labels": false, "title": null}}
    }},
   {"data": {"values": [{}]},
    "mark": {"type": "text", "text": "187HID", "fontSize": 18, "align": "left", "baseline": "alphabetic", "color": "#111"},
    "encoding": {
     "x": {"datum": 166.1, "type": "quantitative", "axis": null},
     "y": {"datum": 3.99, "type": "quantitative", "axis": {"orient": "left", "values": [0,1,2,3,4,5], "ticks": false, "title": null, "labelExpr": "datum.value == 0 ? '0' : format(datum.value, '.1f')"}}
    }}
  ],
  "resolve": {"axis": {"x": "independent", "y": "independent"}}
 },
 {"width": 349, "height": 243,
  "layer": [
   {"data": {"name": "e"}, "transform": [{"fold": ["HIE","140HIP","177HIP","187HIP"], "as": ["series","v"]}],
    "mark": {"type": "line", "strokeWidth": 1, "clip": true},
    "encoding": {
     "x": {"field": "r", "type": "quantitative", "scale": {"domain": [125, 228.2], "nice": false, "zero": false}, "axis": {"orient": "bottom", "values": [125,150,175,200,225], "labels": false, "title": "Residue", "titleFontSize": 25, "titlePadding": 4}},
     "y": {"field": "v", "type": "quantitative", "scale": {"domain": [0, 5], "nice": false}, "axis": {"orient": "left", "values": [0,0.625,1.25,1.875,2.5,3.125,3.75,4.375,5], "labels": false, "title": null}},
     "color": {"field": "series", "type": "nominal", "scale": {"domain": ["HIE","140HIP","177HIP","187HIP"], "range": ["#505050","#c05a5a","#66d966","#5a5ad2"]}, "legend": {"orient": "none", "legendX": 53, "legendY": 34, "title": null, "labelFontSize": 15, "rowPadding": 3}}
    }},
   {"data": {"values": [{}]},
    "mark": {"type": "text", "text": "e", "fontSize": 24, "fontWeight": "bold", "align": "left", "baseline": "alphabetic", "color": "#111"},
    "encoding": {
     "x": {"datum": 131.2, "type": "quantitative", "axis": {"orient": "top", "values": [125,150,175,200,225], "labels": false, "title": null}},
     "y": {"datum": 4.41, "type": "quantitative", "axis": {"orient": "right", "values": [0,0.625,1.25,1.875,2.5,3.125,3.75,4.375,5], "labels": false, "title": null}}
    }}
  ],
  "resolve": {"axis": {"x": "independent", "y": "independent"}}
 }
], "spacing": 10, "bounds": "flush", "resolve": {"scale": {"color": "independent"}, "legend": {"color": "independent"}}}
]
}
